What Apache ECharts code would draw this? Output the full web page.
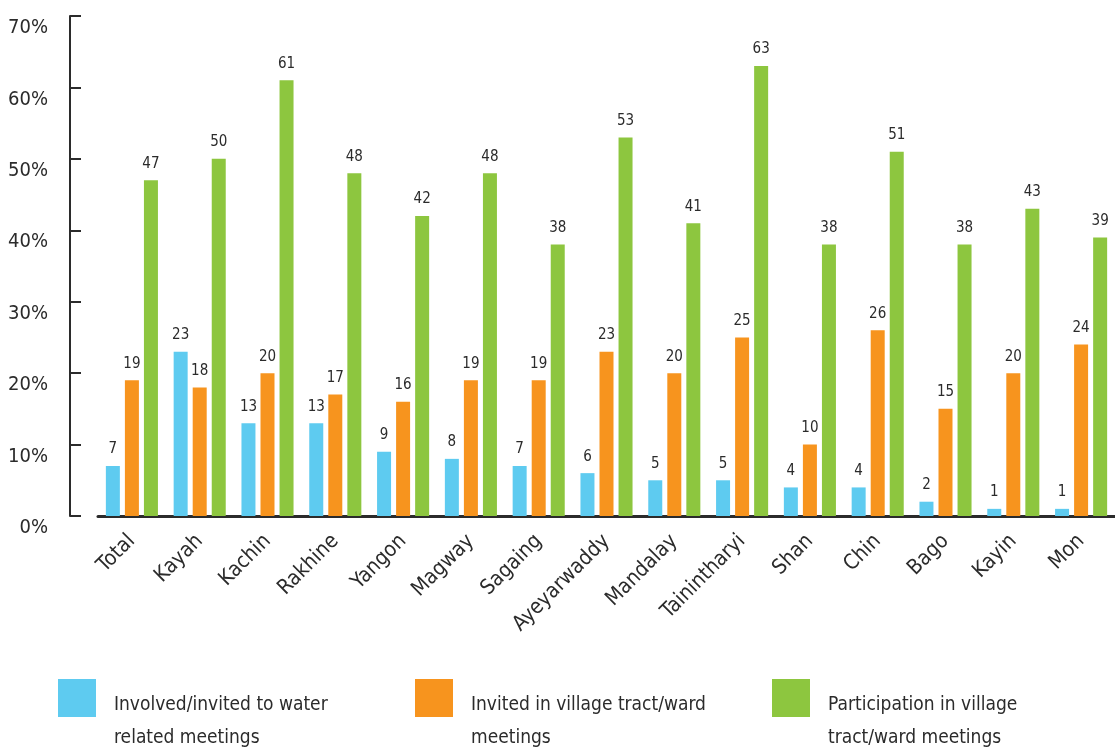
<!DOCTYPE html>
<html>
<head>
<meta charset="utf-8">
<script src="https://cdn.jsdelivr.net/npm/echarts@6/dist/echarts.min.js"></script>
<style>html,body{margin:0;padding:0;background:#fff;}#c{width:1115px;height:751px;}</style>
</head>
<body>
<div id="c"></div>
<script>
const categories = ['Total','Kayah','Kachin','Rakhine','Yangon','Magway','Sagaing','Ayeyarwaddy','Mandalay','Tainintharyi','Shan','Chin','Bago','Kayin','Mon'];
const waterMeetings = [7,23,13,13,9,8,7,6,5,5,4,4,2,1,1];
const invitedVillage = [19,18,20,17,16,19,19,23,20,25,10,26,15,20,24];
const participation = [47,50,61,48,42,48,38,53,41,63,38,51,38,43,39];
const seriesNames = ['Involved/invited to water\nrelated meetings','Invited in village tract/ward\nmeetings','Participation in village\ntract/ward meetings'];
const yTicks = {min:0, max:70, interval:10};

const FONT = "'DejaVu Sans Condensed','Liberation Sans Narrow',sans-serif";
const TXT = '#2b2b2b';
const colors = ['#5ECBF0','#F7941E','#8DC63F'];

const chart = echarts.init(document.getElementById('c'));
const mk = (name, data, color) => ({
  name, type:'bar', data, barWidth:14, barGap:'36%',
  itemStyle:{color},
  label:{show:true, position:'top', distance:9, fontFamily:FONT, fontSize:15, color:TXT}
});
chart.setOption({
  animation:false,
  textStyle:{fontFamily:FONT},
  grid:{left:98, right:-18, top:16, bottom:235, containLabel:false},
  legend:{
    left:58, top:660, padding:0, width:1110, itemWidth:38, itemHeight:38, itemGap:58,
    icon:'rect',
    formatter: name => '{s| }\n' + name.split('\n').map(l => '{t|' + l + '}').join('\n'),
    textStyle:{
      fontFamily:FONT, fontSize:19, color:TXT,
      rich:{
        s:{lineHeight:47, fontSize:10},
        t:{fontFamily:FONT, fontSize:19, color:TXT, lineHeight:33, width:243, padding:[0,0,0,13]}
      }
    },
    data:seriesNames
  },
  xAxis:{
    type:'category', data:categories,
    axisLine:{lineStyle:{color:'#2b2b2b', width:3}},
    axisTick:{show:false},
    axisLabel:{rotate:45, margin:22, fontFamily:FONT, fontSize:21, color:TXT, interval:0}
  },
  yAxis:{
    type:'value', min:yTicks.min, max:yTicks.max, interval:yTicks.interval, offset:28,
    axisLine:{show:true, lineStyle:{color:'#2b2b2b', width:2}},
    axisTick:{show:true, inside:true, length:11, lineStyle:{color:'#2b2b2b', width:2}},
    splitLine:{show:false},
    axisLabel:{formatter:'{value}%', margin:22, fontFamily:FONT, fontSize:20, color:TXT, verticalAlign:'top', padding:[2,0,0,0]}
  },
  series:[
    mk(seriesNames[0], waterMeetings, colors[0]),
    mk(seriesNames[1], invitedVillage, colors[1]),
    mk(seriesNames[2], participation, colors[2])
  ]
});
</script>
</body>
</html>
